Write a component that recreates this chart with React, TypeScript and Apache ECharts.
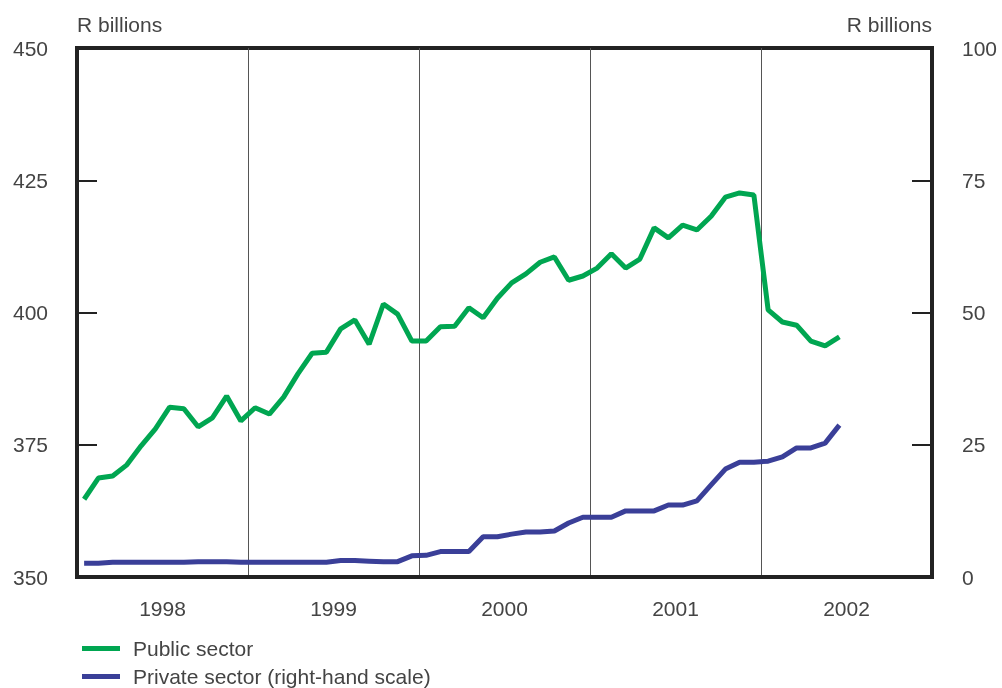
import React, { useEffect, useRef } from "react";
import * as echarts from "echarts";

const years = ["1998", "1999", "2000", "2001", "2002"];

// Monthly values, January 1998 to June 2002
const publicSector = [
  364.7, 368.7, 369.1, 371.2, 374.8, 378.0, 382.1, 381.8, 378.4, 380.1, 384.2, 379.5,
  382.0, 380.8, 384.0, 388.4, 392.3, 392.5, 396.9, 398.6, 394.0, 401.6, 399.7, 394.6,
  394.6, 397.3, 397.4, 400.9, 399.0, 402.7, 405.6, 407.3, 409.5, 410.5, 406.1, 406.9,
  408.4, 411.1, 408.4, 410.1, 416.0, 414.1, 416.5, 415.6, 418.2, 421.8, 422.6, 422.2,
  400.5, 398.2, 397.6, 394.6, 393.7, 395.4,
];

const privateSector = [
  2.6, 2.6, 2.8, 2.8, 2.8, 2.8, 2.8, 2.8, 2.9, 2.9, 2.9, 2.8,
  2.8, 2.8, 2.8, 2.8, 2.8, 2.8, 3.1, 3.1, 3.0, 2.9, 2.9, 4.0,
  4.1, 4.8, 4.8, 4.8, 7.6, 7.6, 8.1, 8.5, 8.5, 8.7, 10.2, 11.3,
  11.3, 11.3, 12.5, 12.5, 12.5, 13.6, 13.6, 14.4, 17.4, 20.4, 21.7, 21.7,
  21.9, 22.7, 24.4, 24.4, 25.3, 28.7,
];

const seriesNames = ["Public sector", "Private sector (right-hand scale)"];

const leftTicks = { min: 350, max: 450, interval: 25 };
const rightTicks = { min: 0, max: 100, interval: 25 };

const FONT = "Liberation Sans";
const TEXT = "#444";
const AXIS = "#222";

export default function App() {
  const ref = useRef<HTMLDivElement>(null);
  useEffect(() => {
    if (!ref.current) return;
    const chart = echarts.init(ref.current, null, { renderer: "svg" });
    const pub = publicSector.map((v, i) => [i + 0.5, v]);
    const priv = privateSector.map((v, i) => [i + 0.5, v]);
    const legendBase = {
      orient: "horizontal",
      left: 82,
      padding: 0,
      icon: "rect",
      itemWidth: 38,
      itemHeight: 5,
      textStyle: { fontSize: 21, color: TEXT, fontFamily: FONT, padding: [0, 0, 0, 8] },
    };
    chart.setOption({
      animation: false,
      textStyle: { fontFamily: FONT },
      grid: {
        left: 77,
        right: 70,
        top: 48,
        bottom: 111,
        show: true,
        borderColor: AXIS,
        borderWidth: 4,
      },
      graphic: [
        {
          type: "text",
          left: 77,
          top: 14,
          style: { text: "R billions", fontSize: 21, fill: TEXT, fontFamily: FONT },
        },
        {
          type: "text",
          right: 70,
          top: 14,
          style: { text: "R billions", fontSize: 21, fill: TEXT, fontFamily: FONT },
        },
      ],
      legend: [
        { ...legendBase, top: 638, data: [seriesNames[0]] },
        { ...legendBase, top: 666, data: [seriesNames[1]] },
      ],
      xAxis: [
        {
          type: "value",
          min: 0,
          max: 60,
          interval: 6,
          axisLine: { show: true, onZero: false, lineStyle: { color: AXIS, width: 4 } },
          axisTick: { show: false },
          splitLine: { show: false },
          axisLabel: {
            margin: 21,
            fontSize: 21,
            color: TEXT,
            fontFamily: FONT,
            formatter: (v: number) => (v % 12 === 6 ? years[(v - 6) / 12] : ""),
          },
        },
        {
          type: "value",
          min: 0,
          max: 60,
          interval: 12,
          position: "bottom",
          axisLine: { show: false, onZero: false },
          axisTick: { show: false },
          axisLabel: { show: false },
          splitLine: { show: true, lineStyle: { color: "#555", width: 1 } },
        },
      ],
      yAxis: [
        {
          type: "value",
          position: "left",
          ...leftTicks,
          axisLine: { show: true, onZero: false, lineStyle: { color: AXIS, width: 4 } },
          axisTick: { show: true, inside: true, length: 20, lineStyle: { color: AXIS, width: 2 } },
          splitLine: { show: false },
          axisLabel: { margin: 29, fontSize: 21, color: TEXT, fontFamily: FONT },
        },
        {
          type: "value",
          position: "right",
          ...rightTicks,
          axisLine: { show: true, onZero: false, lineStyle: { color: AXIS, width: 4 } },
          axisTick: { show: true, inside: true, length: 20, lineStyle: { color: AXIS, width: 2 } },
          splitLine: { show: false },
          axisLabel: { margin: 30, fontSize: 21, color: TEXT, fontFamily: FONT },
        },
      ],
      series: [
        {
          name: seriesNames[0],
          type: "line",
          xAxisIndex: 0,
          yAxisIndex: 0,
          data: pub,
          symbol: "none",
          lineStyle: { color: "#00A651", width: 5 },
          itemStyle: { color: "#00A651" },
        },
        {
          name: seriesNames[1],
          type: "line",
          xAxisIndex: 0,
          yAxisIndex: 1,
          data: priv,
          symbol: "none",
          lineStyle: { color: "#3A3F98", width: 5 },
          itemStyle: { color: "#3A3F98" },
        },
      ],
    });
    return () => chart.dispose();
  }, []);
  return (
    <div
      ref={ref}
      style={{ position: "fixed", left: 0, top: 0, width: 1002, height: 688 }}
    />
  );
}
